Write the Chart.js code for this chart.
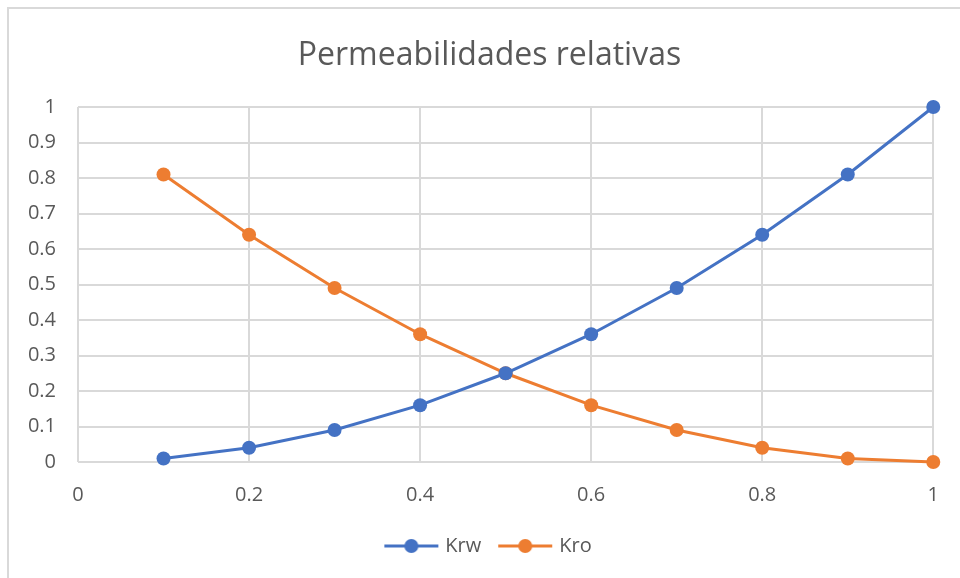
<!DOCTYPE html>
<html>
<head>
<meta charset="utf-8">
<script src="https://cdn.jsdelivr.net/npm/chart.js@4.4.0/dist/chart.umd.min.js"></script>
<style>
  html, body { margin: 0; padding: 0; background: #fff; }
  #wrap { position: relative; width: 960px; height: 578px; overflow: hidden; }
  #frame { position: absolute; left: 7px; top: 7px; right: -10px; bottom: -10px;
           border-left: 2px solid #d9d9d9; border-top: 2px solid #d9d9d9; pointer-events: none; }
</style>
</head>
<body>
<div id="wrap">
  <canvas id="myChart" width="960" height="578"></canvas>
  <div id="frame"></div>
</div>
<script>
// saturacion de agua
var sw = [0.1, 0.2, 0.3, 0.4, 0.5, 0.6, 0.7, 0.8, 0.9, 1];
var krw = [0.01, 0.04, 0.09, 0.16, 0.25, 0.36, 0.49, 0.64, 0.81, 1];
var kro = [0.81, 0.64, 0.49, 0.36, 0.25, 0.16, 0.09, 0.04, 0.01, 0];

var blue = "#4472C4";
var orange = "#ED7D31";
var gray = "#595959";
var grid = "#d9d9d9";
var font = 'Open Sans';

function toPoints(xs, ys) {
  var pts = [];
  for (var i = 0; i < xs.length; i++) {
    pts.push({ x: xs[i], y: ys[i] });
  }
  return pts;
}

// legend marker: line with a dot in the middle
function legendMarker(color) {
  var c = document.createElement("canvas");
  c.width = 56;
  c.height = 16;
  var g = c.getContext("2d");
  g.strokeStyle = color;
  g.lineWidth = 3;
  g.beginPath();
  g.moveTo(1, 8);
  g.lineTo(55, 8);
  g.stroke();
  g.fillStyle = color;
  g.beginPath();
  g.arc(28, 8, 7, 0, Math.PI * 2);
  g.fill();
  return c;
}

function tickLabel(v) {
  return String(Math.round(v * 10) / 10);
}

// title and legend sit centred a bit right of the canvas centre (like excel)
var shiftBlocks = {
  id: 'shiftBlocks',
  afterLayout: function (chart) {
    if (chart.titleBlock) chart.titleBlock.left += 40;
    if (chart.legend) chart.legend.left += 40;
  }
};

var ctx = document.getElementById("myChart").getContext('2d');
var myChart = new Chart(ctx, {
  type: 'scatter',
  data: {
    datasets: [{
      label: 'Krw',
      data: toPoints(sw, krw),
      borderColor: blue,
      backgroundColor: blue,
      showLine: true,
      clip: false
    }, {
      label: 'Kro',
      data: toPoints(sw, kro),
      borderColor: orange,
      backgroundColor: orange,
      showLine: true,
      clip: false
    }]
  },
  plugins: [shiftBlocks],
  options: {
    responsive: false,
    animation: false,
    layout: { padding: { left: 0, right: 21, top: 0, bottom: 12 } },
    elements: {
      line: { borderWidth: 3, tension: 0 },
      point: { radius: 7, hoverRadius: 7, borderWidth: 0, pointStyle: 'circle' }
    },
    plugins: {
      title: {
        display: true,
        text: 'Permeabilidades relativas',
        color: gray,
        font: { family: font, size: 32, weight: 'normal' },
        padding: { top: 37, bottom: 31.6 }
      },
      legend: {
        position: 'bottom',
        labels: {
          color: gray,
          font: { family: font, size: 20 },
          usePointStyle: true,
          pointStyleWidth: 48,
          padding: 20,
          generateLabels: function (chart) {
            var items = Chart.defaults.plugins.legend.labels.generateLabels(chart);
            items.forEach(function (it) {
              it.pointStyle = legendMarker(chart.data.datasets[it.datasetIndex].borderColor);
            });
            return items;
          }
        }
      },
      tooltip: { enabled: false }
    },
    scales: {
      x: {
        type: 'linear',
        min: 0,
        max: 1,
        ticks: { stepSize: 0.2, color: gray, font: { family: font, size: 20 }, padding: 21, callback: tickLabel },
        grid: { color: grid, lineWidth: 2, drawTicks: false },
        border: { display: false },
        afterFit: function (axis) { axis.height = 54; }
      },
      y: {
        type: 'linear',
        min: 0,
        max: 1,
        ticks: { stepSize: 0.1, color: gray, font: { family: font, size: 20 }, padding: 22, callback: tickLabel },
        grid: { color: grid, lineWidth: 2, drawTicks: false },
        border: { display: false },
        afterFit: function (axis) { axis.width = 78; }
      }
    }
  }
});
</script>
</body>
</html>
